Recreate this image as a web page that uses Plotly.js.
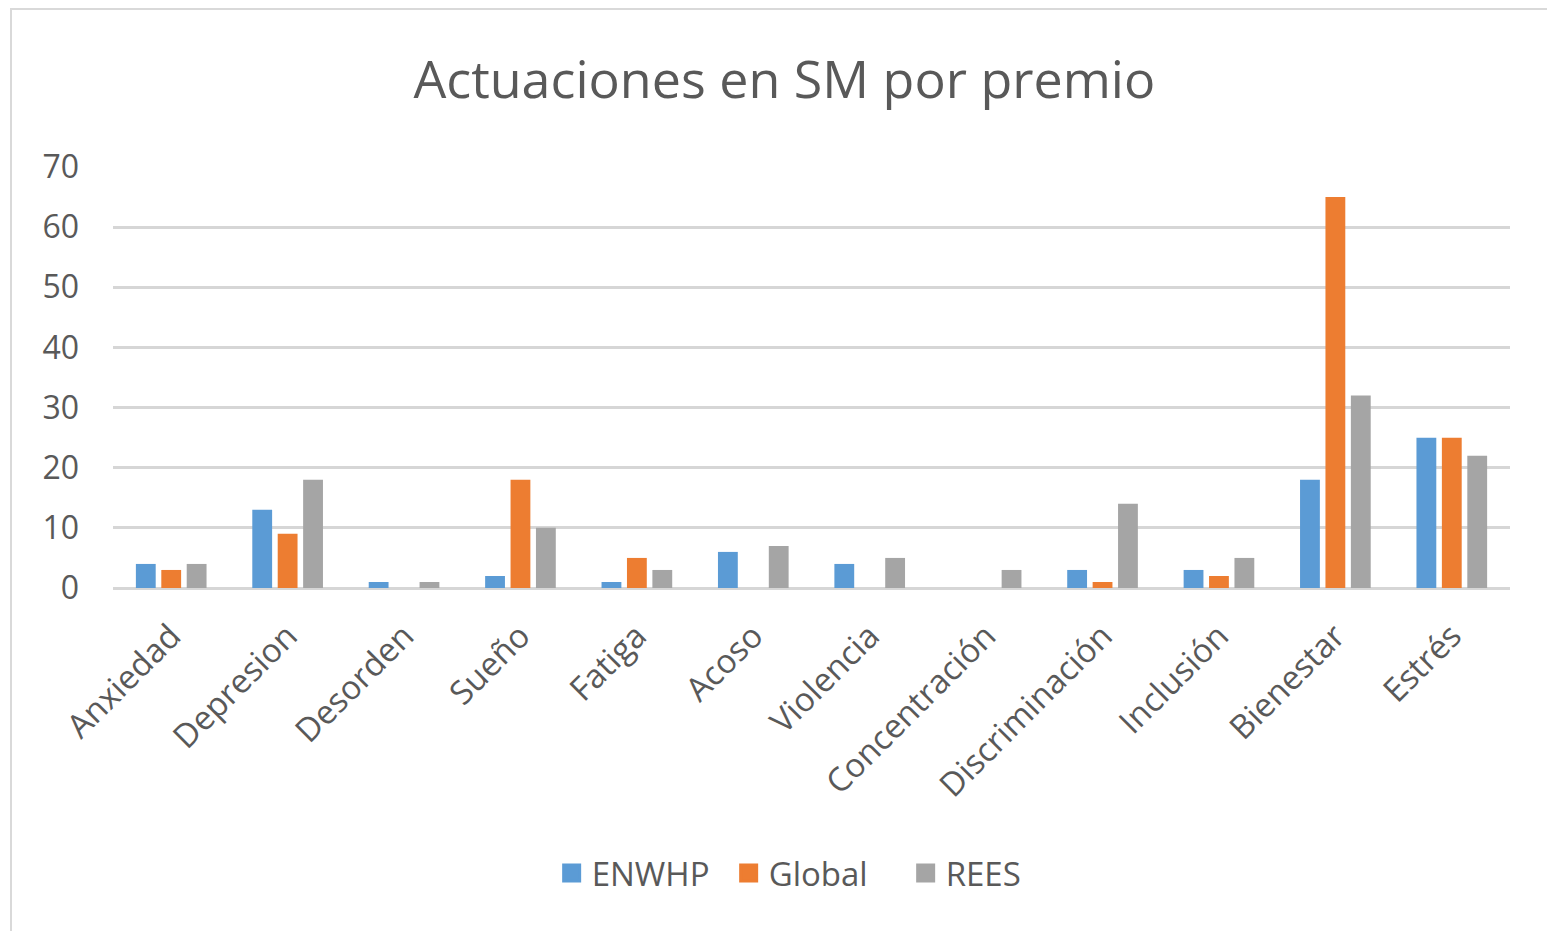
<!DOCTYPE html>
<html>
<head>
<meta charset="utf-8">
<script src="https://cdn.plot.ly/plotly-3.0.1.min.js"></script>
<style>
  html, body { margin: 0; padding: 0; background: #ffffff; overflow: hidden; }
  #frame { position: absolute; left: 10px; top: 8px; width: 1600px; height: 960px; border: 2px solid #d9d9d9; box-sizing: border-box; }
  #chart { position: absolute; left: 0; top: 0; width: 1547px; height: 931px; }
</style>
</head>
<body>
<div id="frame"></div>
<div id="chart"></div>
<script>
const categories = ["Anxiedad", "Depresion", "Desorden", "Sueño", "Fatiga", "Acoso", "Violencia", "Concentración", "Discriminación", "Inclusión", "Bienestar", "Estrés"];
const seriesNames = ["ENWHP", "Global", "REES"];
const enwhp  = [4, 13, 1, 2, 1, 6, 4, 0, 3, 3, 18, 25];
const global = [3, 9, 0, 18, 5, 0, 0, 0, 1, 2, 65, 25];
const rees   = [4, 18, 1, 10, 3, 7, 5, 3, 14, 5, 32, 22];
const yTicks = [0, 10, 20, 30, 40, 50, 60, 70];

const colors = ["#5B9BD5", "#ED7D31", "#A5A5A5"];
const values = [enwhp, global, rees];
const font = "'Open Sans', 'Noto Sans', sans-serif";
const txt = "#595959";

const traces = [];
seriesNames.forEach((name, i) => {
  traces.push({type: "bar", name: name, x: categories, y: values[i], marker: {color: colors[i]},
               showlegend: false, legendgroup: name});
});
// legend-only square swatches (larger than the default bar swatch)
seriesNames.forEach((name, i) => {
  traces.push({type: "scatter", mode: "markers", name: name, x: [null], y: [null],
               marker: {symbol: "square", size: 16, color: colors[i], line: {color: colors[i], width: 3}},
               showlegend: true, legendgroup: name, hoverinfo: "skip"});
});

const layout = {
  width: 1547, height: 931,
  paper_bgcolor: "rgba(0,0,0,0)",
  plot_bgcolor: "rgba(0,0,0,0)",
  margin: {l: 113, r: 37, t: 167, b: 343},
  font: {family: font, color: txt},
  title: {text: "Actuaciones en SM por premio", x: 0.507, xanchor: "center", y: 0.914, yanchor: "middle",
          font: {family: font, size: 52, color: txt}},
  barmode: "group",
  bargap: 0.345,
  bargroupgap: 0.22,
  xaxis: {
    type: "category",
    categoryorder: "array",
    categoryarray: categories,
    tickangle: -45,
    tickfont: {family: font, size: 33, color: txt},
    showgrid: false,
    showline: false,
    ticks: "",
    ticklabelstandoff: 21
  },
  yaxis: {
    range: [0, 70],
    tickvals: yTicks,
    ticktext: yTicks.map(String),
    tickfont: {family: font, size: 32, color: txt},
    showgrid: true,
    gridcolor: "#d6d6d6",
    gridwidth: 3,
    zeroline: true,
    zerolinecolor: "#d6d6d6",
    zerolinewidth: 3,
    showline: false,
    ticks: "",
    ticklabelstandoff: 33
  },
  showlegend: true,
  legend: {
    orientation: "h",
    x: 0.314, xanchor: "left",
    y: -0.677, yanchor: "middle",
    font: {family: font, size: 33, color: txt},
    itemwidth: 30,
    entrywidth: 132,
    tracegroupgap: 0
  }
};

Plotly.newPlot("chart", traces, layout, {displayModeBar: false, staticPlot: true});
</script>
</body>
</html>
